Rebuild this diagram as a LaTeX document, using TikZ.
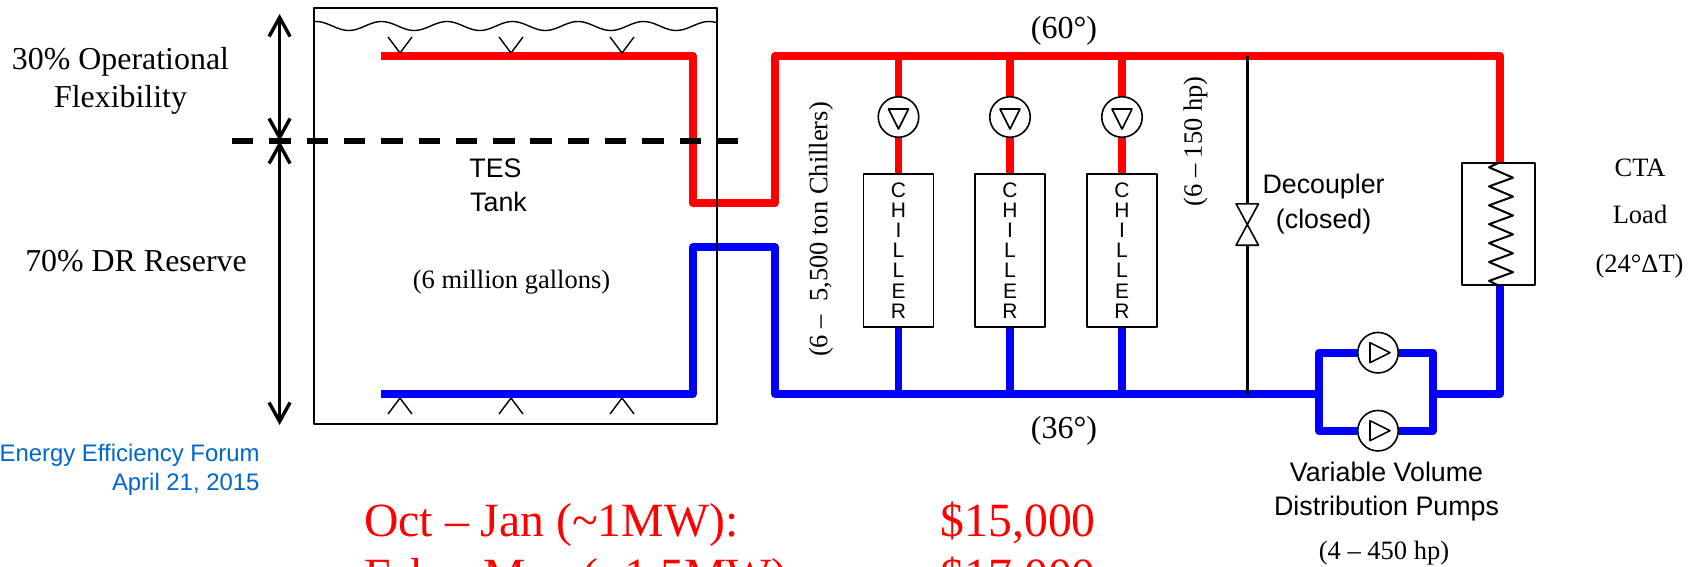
\documentclass[tikz,border=0pt]{standalone}
\usepackage{fontspec}
\setmainfont{Liberation Serif}
\setsansfont{Liberation Sans}
\usepackage{pgf,tikz}
\usetikzlibrary{arrows.meta}
\definecolor{forumblue}{HTML}{0066CC}
\tikzset{
  hotpipe/.style={draw=red,line width=7.6pt},
  coldpipe/.style={draw=blue,line width=7.6pt},
  thinline/.style={draw=black,line width=1.6pt},
  levelarrow/.style={draw=black,line width=3.4pt,{Straight Barb[length=19pt,width=21pt,line width=3.4pt]}-{Straight Barb[length=19pt,width=21pt,line width=3.4pt]}},
  pumpnode/.style={circle,draw=black,line width=1.6pt,fill=white,minimum size=40.5pt,inner sep=0pt},
  chillernode/.style={rectangle,draw=black,line width=1.8pt,fill=white,minimum width=70pt,minimum height=153pt,inner sep=0pt,align=center,font=\fontsize{21}{20.1}\selectfont\sffamily},
  lbl/.style={inner sep=0pt,anchor=base,font=\fontsize{26.5}{30}\selectfont},
  lblbig/.style={inner sep=0pt,anchor=base,font=\fontsize{31.9}{36}\selectfont},
  lblsans/.style={inner sep=0pt,anchor=base,font=\fontsize{26.8}{30}\selectfont\sffamily},
  lblforum/.style={inner sep=0pt,anchor=base east,text=forumblue,font=\fontsize{23.9}{28}\selectfont\sffamily},
  lblcost/.style={inner sep=0pt,anchor=base west,text=red,font=\fontsize{47.7}{54}\selectfont}
}
\begin{document}
\begin{tikzpicture}[line join=round,x=1pt,y=-1pt]
\clip (0,0) rectangle (1696,566);
% corners of the mains
\coordinate (hotStart) at (381,56);
\coordinate (hotDrop) at (693,56);
\coordinate (hotLow) at (693,203);
\coordinate (hotRiseB) at (775,203);
\coordinate (hotL) at (775,56);
\coordinate (hotR) at (1500,56);
\coordinate (coldStart) at (381,394);
\coordinate (coldRise) at (693,394);
\coordinate (coldHigh) at (693,247);
\coordinate (coldHighB) at (775,247);
\coordinate (coldL) at (775,394);
\coordinate (coldBypL) at (1319,394);
\coordinate (coldBypR) at (1433,394);
\coordinate (coldR) at (1500,394);
% equipment
\node[pumpnode] (pumpA) at (898.5,117) {};
\node[pumpnode] (pumpB) at (1010,117) {};
\node[pumpnode] (pumpC) at (1122,117) {};
\node[pumpnode] (pumpD) at (1378,352.7) {};
\node[pumpnode] (pumpE) at (1378,430.7) {};
\node[chillernode] (chillerA) at (898.5,250.5) {C\\H\\I\\L\\L\\E\\R};
\node[chillernode] (chillerB) at (1010,250.5) {C\\H\\I\\L\\L\\E\\R};
\node[chillernode] (chillerC) at (1122,250.5) {C\\H\\I\\L\\L\\E\\R};
\node[rectangle,draw=black,line width=2pt,minimum width=73.5pt,minimum height=122pt,inner sep=0pt] (load) at (1498.7,224.2) {};
\node[inner sep=0pt,minimum width=22pt,minimum height=41pt] (valve) at (1247.3,224.5) {};
% pipes
\draw[hotpipe] (hotStart) -- (hotDrop) -- (hotLow) -- (hotRiseB) -- (hotL) -- (hotR) -- (hotR |- load.north);
\draw[coldpipe] (coldStart) -- (coldRise) -- (coldHigh) -- (coldHighB) -- (coldL) -- (coldBypL);
\draw[coldpipe] (coldBypR) -- (coldR) -- (coldR |- load.south);
\draw[coldpipe] (pumpD) -| (coldBypL) |- (pumpE);
\draw[coldpipe] (pumpD) -| (coldBypR) |- (pumpE);
\foreach \i in {A,B,C}{
  \draw[hotpipe] (pump\i |- hotL) -- (pump\i);
  \draw[hotpipe] (pump\i) -- (chiller\i);
  \draw[coldpipe] (chiller\i) -- (chiller\i |- coldL);
}
\draw[line width=3pt] (valve |- hotL) -- (valve);
\draw[line width=3pt] (valve) -- (valve |- coldL);
\draw[thinline,fill=white] (valve.north west) -- (valve.north east) -- (valve.south west) -- (valve.south east) -- cycle;
% pump triangles
\foreach \i in {A,B,C}
  \draw[thinline] ([shift={(-10,-8)}]pump\i.center) -- ([shift={(10,-8)}]pump\i.center) -- ([shift={(0,12)}]pump\i.center) -- cycle;
\foreach \i in {D,E}
  \draw[thinline] ([shift={(-8,-10)}]pump\i.center) -- ([shift={(-8,10)}]pump\i.center) -- ([shift={(12,0)}]pump\i.center) -- cycle;
% load coil
\draw[line width=2pt] (hotR |- load.north) -- (1489,167.3)
  \foreach \k in {0,...,5}{ -- (1513,{177.7+18.9*\k}) -- (1489,{186.4+18.9*\k}) } -- (hotR |- load.south);
% tank
\draw[line width=1.8pt] (314,8) rectangle (716.8,424);
\draw[line width=1.4pt] plot[domain=314:716.8,samples=160] (\x,{26-4.5*cos(5.496*(\x-316))});
\foreach \x in {400,511,622}{
  \draw[line width=1.4pt] (\x-12,37) -- (\x,53) -- (\x+12,37);
  \draw[line width=1.4pt] (\x-12,414) -- (\x,398) -- (\x+12,414);
}
\draw[line width=5.2pt,dash pattern=on 21.4pt off 15.9pt] (232,141) -- (739,141);
\coordinate (levelTop) at (279.6,14);
\coordinate (levelMid) at (279.6,141);
\coordinate (levelBot) at (279.6,425);
\draw[levelarrow] (levelTop) -- (levelMid);
\draw[levelarrow] (levelMid) -- (levelBot);
% labels
\draw (120.5,69) node[lblbig] (opflex) {30\% Operational};
\draw (120.5,107) node[lblbig] (flexib) {Flexibility};
\draw (136,271) node[lblbig] (drres) {70\% DR Reserve};
\draw (495.5,177) node[lblsans] (tes) {TES};
\draw (498.5,211) node[lblsans] (tank) {Tank};
\draw (511.5,288) node[lbl] (gallons) {(6 million gallons)};
\draw (1064,38) node[lbl,font=\fontsize{32}{36}\selectfont] (hottemp) {(60°)};
\draw (1064,438) node[lbl,font=\fontsize{32}{36}\selectfont] (coldtemp) {(36°)};
\draw (821,229.5) node[lbl,anchor=center,rotate=90] (chillcap) {(6 –\ \ 5,500 ton Chillers)};
\draw (1195.5,141.5) node[lbl,anchor=center,rotate=90] (pumpcap) {(6 – 150 hp)};
\draw (1323.6,193) node[lblsans] (decoupler) {Decoupler};
\draw (1323.6,228) node[lblsans] (closed) {(closed)};
\draw (1640,176) node[lbl] (cta) {CTA};
\draw (1640,223) node[lbl] (ctaload) {Load};
\draw (1639.5,272) node[lbl] (delta) {(24°ΔT)};
\draw (1386.5,481) node[lblsans] (variable) {Variable Volume};
\draw (1386.5,515) node[lblsans] (distrib) {Distribution Pumps};
\draw (1384,559) node[lbl] (vfdhp) {(4 – 450 hp)};
\draw (259.7,461.7) node[lblforum] (forum) {Energy Efficiency Forum};
\draw (259.7,490.7) node[lblforum] (forumdate) {April 21, 2015};
\draw (364,536) node[lblcost] (octjan) {Oct – Jan (\textasciitilde1MW):};
\draw (940.5,536) node[lblcost] (octcost) {\$15,000};
\draw (364,591) node[lblcost] (febmay) {Feb – May (\textasciitilde1.5MW):};
\draw (940.5,591) node[lblcost] (febcost) {\$17,000};
\end{tikzpicture}
\end{document}
